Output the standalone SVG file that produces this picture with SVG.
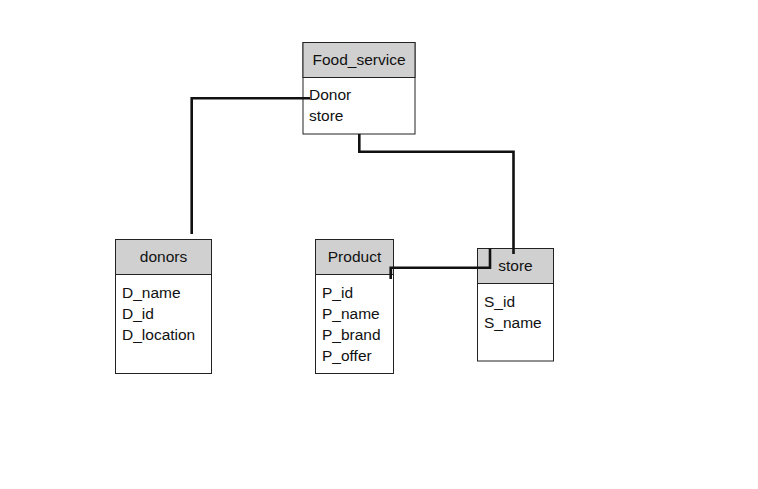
<svg xmlns="http://www.w3.org/2000/svg" width="758" height="489" viewBox="0 0 758 489">
<style>
.box{fill:#fff;stroke:#222;stroke-width:1}
.hd{fill:#d0d0d0;stroke:#222;stroke-width:1}
text{font-family:"Liberation Sans",Arial,sans-serif;font-size:15.5px;fill:#111}
.c{text-anchor:middle}
.conn{fill:none;stroke:#111;stroke-width:2.6}
</style>
<rect width="758" height="489" fill="#fff"/>
<g id="food_service">
<rect class="box" x="303" y="42.5" width="112" height="91.5"/>
<rect class="hd" x="303" y="42.5" width="112" height="35"/>
<text class="c" x="359" y="65">Food_service</text>
<text x="309" y="100">Donor</text>
<text x="309" y="121">store</text>
</g>
<g id="donors">
<rect class="box" x="115.5" y="239.5" width="96" height="134"/>
<rect class="hd" x="115.5" y="239.5" width="96" height="35"/>
<text class="c" x="163.5" y="262">donors</text>
<text x="122" y="298">D_name</text>
<text x="122" y="319">D_id</text>
<text x="122" y="340">D_location</text>
</g>
<g id="product">
<rect class="box" x="315.5" y="239.5" width="78" height="134"/>
<rect class="hd" x="315.5" y="239.5" width="78" height="35"/>
<text class="c" x="354.5" y="262">Product</text>
<text x="322" y="298">P_id</text>
<text x="322" y="319">P_name</text>
<text x="322" y="340">P_brand</text>
<text x="322" y="361">P_offer</text>
</g>
<g id="store">
<rect class="box" x="477.5" y="248.5" width="76" height="112.5"/>
<rect class="hd" x="477.5" y="248.5" width="76" height="35"/>
<text class="c" x="515.5" y="271">store</text>
<text x="484" y="307">S_id</text>
<text x="484" y="328">S_name</text>
</g>
<g id="connectors">
<polyline class="conn" points="310,98.3 191.7,98.3 191.7,234"/>
<polyline class="conn" points="359.3,134 359.3,151.7 513.5,151.7 513.5,254"/>
<polyline class="conn" points="390.7,279 390.7,267.7 490,267.7 490,248.5"/>
</g>
</svg>
